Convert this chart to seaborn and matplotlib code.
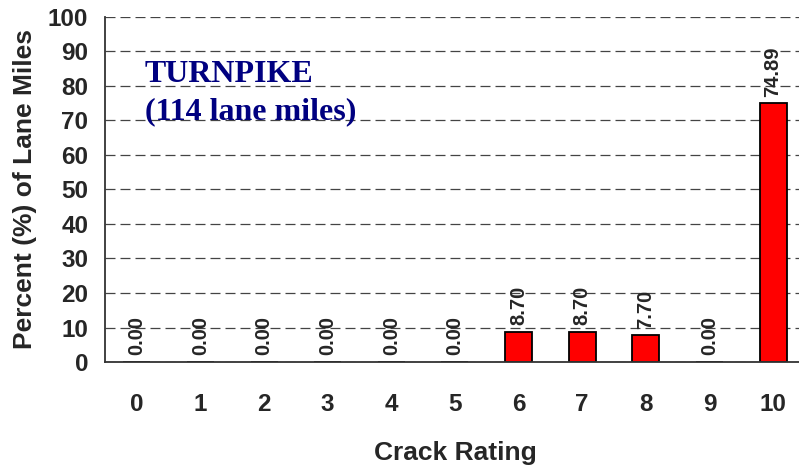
import pandas as pd
import seaborn as sns
import matplotlib.pyplot as plt

ratings = ["0", "1", "2", "3", "4", "5", "6", "7", "8", "9", "10"]
percent = [0.00, 0.00, 0.00, 0.00, 0.00, 0.00, 8.70, 8.70, 7.70, 0.00, 74.89]
title_lines = ["TURNPIKE", "(114 lane miles)"]

df = pd.DataFrame({"rating": ratings, "percent": percent})

sns.set_style("white")
plt.rcParams["font.family"] = ["Liberation Sans", "DejaVu Sans"]

fig = plt.figure(figsize=(7.99, 4.66), dpi=100)
# axes runs a little past the right edge of the figure, like the original
ax = fig.add_axes([0.1314, 0.223, 0.876, 0.741])

g1 = sns.barplot(data=df, x="rating", y="percent", color="red",
                 edgecolor="black", linewidth=1.3, width=0.425,
                 saturation=1, ax=ax)

for i, v in enumerate(percent):
    ax.text(i, v + 2.0, f"{v:.2f}", rotation=90, ha="center", va="bottom",
            fontsize=14.5, fontweight="bold")

ax.set_xlim(-0.5, 10.5)
ax.set_ylim(0, 100)
ax.set_yticks(range(0, 101, 10))
ax.yaxis.grid(True, linestyle=(0, (8, 4)), color="#444444", linewidth=0.9)
ax.set_axisbelow(True)
ax.set_xticks([i - 0.5 for i in range(0, 12)], minor=True)
ax.tick_params(axis="x", which="major", length=0, pad=22, labelsize=17.5)
ax.tick_params(axis="x", which="minor", length=6, width=1, direction="out", color="#333333")
ax.tick_params(axis="y", length=6, width=1, direction="out", labelsize=17.5, pad=6,
               color="#333333")
for lab in ax.get_xticklabels() + ax.get_yticklabels():
    lab.set_fontweight("bold")

for s in ["top", "right"]:
    ax.spines[s].set_visible(False)
for s in ["left", "bottom"]:
    ax.spines[s].set_color("#333333")
    ax.spines[s].set_linewidth(1.3)

ax.set_xlabel("Crack Rating", fontsize=19, fontweight="bold", labelpad=18)
ax.set_ylabel("Percent (%) of Lane Miles", fontsize=19, fontweight="bold", labelpad=8)

ax.text(0.057, 0.875, "\n".join(title_lines), transform=ax.transAxes,
        ha="left", va="top", fontsize=23, fontweight="bold", color="#000080",
        family=["Liberation Serif", "DejaVu Serif"], linespacing=1.38)

plt.savefig("out.png", dpi=100)
